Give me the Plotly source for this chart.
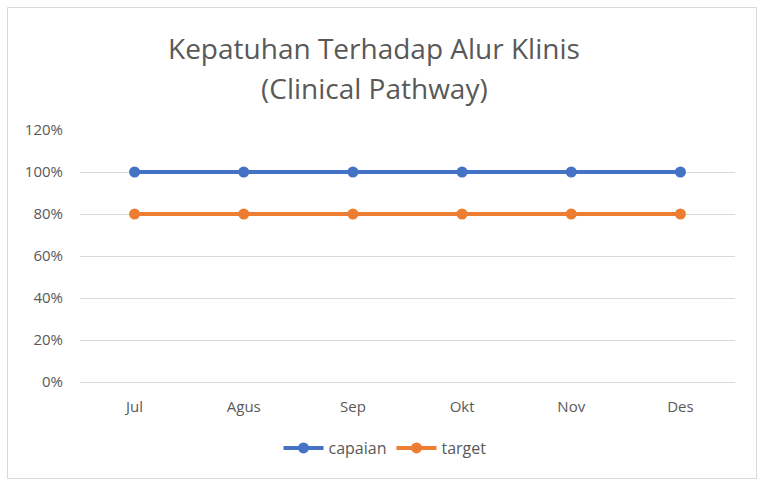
import plotly.graph_objects as go

months = ["Jul", "Agus", "Sep", "Okt", "Nov", "Des"]
capaian = [1.0, 1.0, 1.0, 1.0, 1.0, 1.0]
target = [0.8, 0.8, 0.8, 0.8, 0.8, 0.8]
y_ticks = [0, 0.2, 0.4, 0.6, 0.8, 1.0, 1.2]

FONT = "Open Sans"
GREY = "#595959"

fig = go.Figure()
fig.add_trace(go.Scatter(x=months, y=capaian, name="capaian", mode="lines+markers",
                         line=dict(color="#4472C4", width=4),
                         marker=dict(color="#4472C4", size=11)))
fig.add_trace(go.Scatter(x=months, y=target, name="target", mode="lines+markers",
                         line=dict(color="#ED7D31", width=4),
                         marker=dict(color="#ED7D31", size=11)))

W, H = 767, 486
L, R, T, B = 80, 32, 130, 104
pw, ph = W - L - R, H - T - B

def px(xp):
    return (xp - L) / pw

def py(yp):
    return (H - B - yp) / ph

fig.update_layout(
    width=W, height=H,
    margin=dict(l=L, r=R, t=T, b=B),
    paper_bgcolor="white", plot_bgcolor="white",
    font=dict(family=FONT, color=GREY, size=15),
    showlegend=True,
    legend=dict(orientation="h", x=px(385), xanchor="center", y=py(448), yanchor="middle",
                font=dict(size=16, color=GREY), itemwidth=40, tracegroupgap=0),
    xaxis=dict(showgrid=False, showline=False, zeroline=False, ticks="",
               tickfont=dict(size=15, color=GREY), range=[-0.5, 5.5],
               ticklabelstandoff=14),
    yaxis=dict(range=[0, 1.2], tickvals=y_ticks, tickformat=".0%",
               showgrid=True, gridcolor="#D9D9D9", gridwidth=1, zeroline=True,
               zerolinecolor="#D9D9D9", zerolinewidth=1, showline=False, ticks="",
               tickfont=dict(size=15, color=GREY), ticklabelstandoff=16),
    shapes=[dict(type="rect", xref="paper", yref="paper",
                 x0=px(7.5), x1=px(756.5), y0=py(478.5), y1=py(7.5),
                 line=dict(color="#D9D9D9", width=1), fillcolor="rgba(0,0,0,0)", layer="below")],
    annotations=[
        dict(text="Kepatuhan Terhadap Alur Klinis", xref="paper", yref="paper",
             x=px(374), y=py(48), xanchor="center", yanchor="middle", showarrow=False,
             font=dict(size=28, color=GREY, family=FONT)),
        dict(text="(Clinical Pathway)", xref="paper", yref="paper",
             x=px(374), y=py(88), xanchor="center", yanchor="middle", showarrow=False,
             font=dict(size=28, color=GREY, family=FONT)),
    ],
)

fig.write_html("out.html")
